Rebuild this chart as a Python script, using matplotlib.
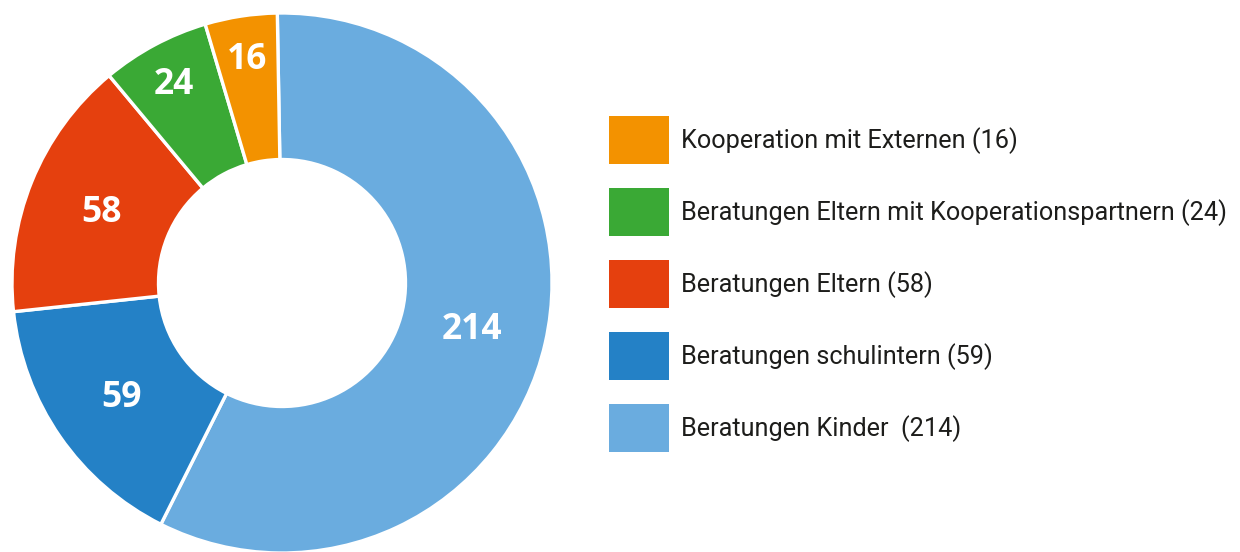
import matplotlib
matplotlib.use("Agg")
import matplotlib.pyplot as plt
from matplotlib.patches import Rectangle
import numpy as np

# ---- data ----
categories = ["Beratungen Kinder", "Beratungen schulintern", "Beratungen Eltern",
              "Beratungen Eltern mit Kooperationspartnern", "Kooperation mit Externen"]
values = [214, 59, 58, 24, 16]
legend_labels = ["Kooperation mit Externen (16)",
                 "Beratungen Eltern mit Kooperationspartnern (24)",
                 "Beratungen Eltern (58)",
                 "Beratungen schulintern (59)",
                 "Beratungen Kinder  (214)"]
colors = ["#6AACDF", "#2481C6", "#E5400E", "#3AA935", "#F39200"]

W, H = 1240, 552
fig = plt.figure(figsize=(W / 100, H / 100), dpi=100)
fig.patch.set_facecolor("white")

# donut axes: center (282, 283) px from top, radius 270 px
cx, cy, R = 282, 283, 270
ax = fig.add_axes([(cx - R) / W, (H - cy - R) / H, 2 * R / W, 2 * R / H])
inner = 123.5 / R
wedges, _ = ax.pie(values, colors=colors, startangle=91, counterclock=False,
                   radius=1, wedgeprops=dict(width=1 - inner, edgecolor="white", linewidth=2.4))
ax.set_xlim(-1, 1)
ax.set_ylim(-1, 1)
ax.set_aspect("equal")
ax.axis("off")

label_font = ["Open Sans", "DejaVu Sans"]
total = sum(values)
half_digit = 12.5 / R
for w, v in zip(wedges, values):
    ang = np.deg2rad((w.theta1 + w.theta2) / 2)
    r = 229 / R if v / total < 0.08 else 195 / R
    ax.text(r * np.cos(ang), r * np.sin(ang) - half_digit, str(v), ha="center", va="baseline",
            color="white", fontsize=25.5, fontweight="bold", family=label_font)

# legend overlay
lax = fig.add_axes([0, 0, 1, 1])
lax.set_xlim(0, W)
lax.set_ylim(H, 0)
lax.axis("off")
legend_colors = colors[::-1]
y0, dy = 140, 72
text_font = ["Roboto", "DejaVu Sans"]
for i, (lab, col) in enumerate(zip(legend_labels, legend_colors)):
    yc = y0 + i * dy
    lax.add_patch(Rectangle((609, yc - 24), 60, 48, facecolor=col, edgecolor="none"))
    lax.text(681, yc + 1, lab, ha="left", va="center", fontsize=18.2,
             color="#1d1d1b", family=text_font)

fig.savefig("out.png", dpi=100, facecolor="white")
